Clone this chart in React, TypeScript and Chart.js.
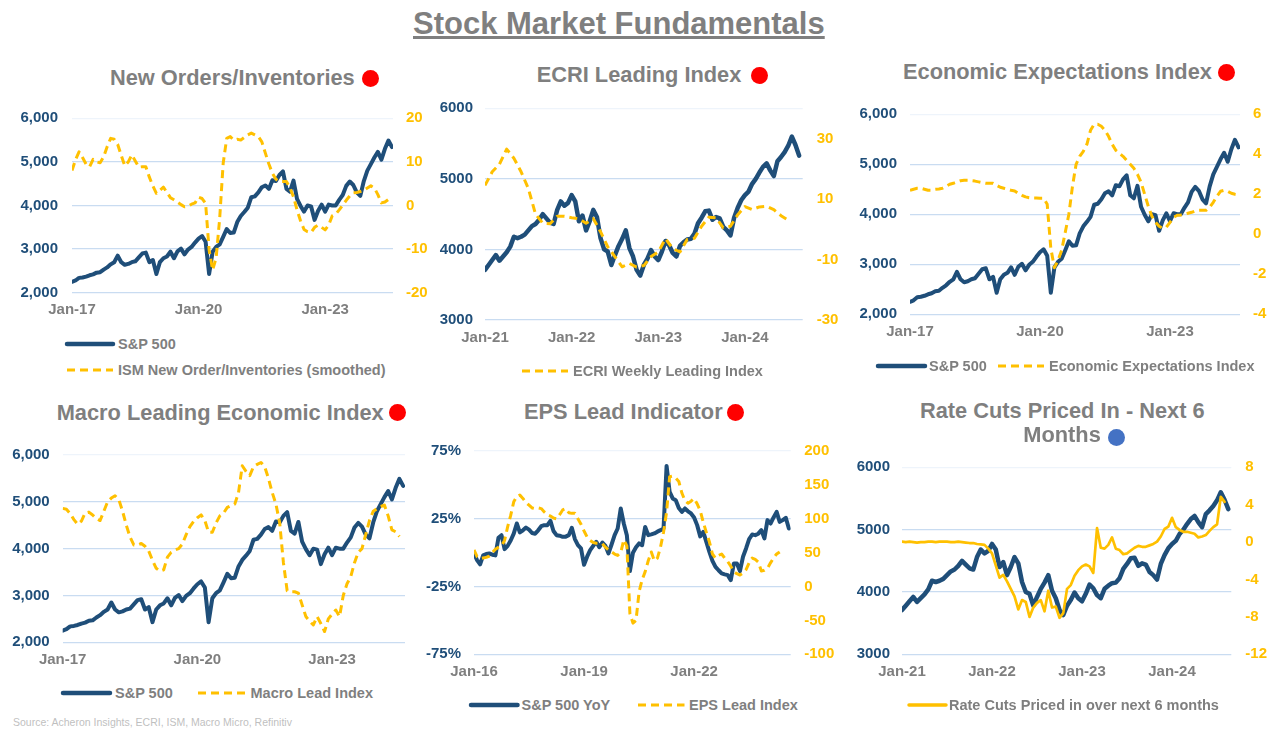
import React, { useEffect, useRef } from "react";
import { Chart, registerables } from "chart.js";

Chart.register(...registerables);

const FONT = "'Liberation Sans', Arial, Helvetica, sans-serif";
const NAVY = "#1F4E79";
const GOLD = "#FFC000";
const GRAY = "#7F7F7F";
const GRID = "#C9DCF1";
const GRID_TOP = "#EEF4FB";
const RED = "#FF0000";
const BLUE = "#4472C4";

// ---------- tick labels ----------
const X_TICKS_2017 = ["Jan-17", "Jan-20", "Jan-23"];
const X_TICKS_2021 = ["Jan-21", "Jan-22", "Jan-23", "Jan-24"];
const X_TICKS_2016 = ["Jan-16", "Jan-19", "Jan-22"];
const Y_SPX_WIDE = [2000, 3000, 4000, 5000, 6000];
const Y_SPX_NARROW = [3000, 4000, 5000, 6000];
const Y_ISM = [-20, -10, 0, 10, 20];
const Y_ECRI = [-30, -10, 10, 30];
const Y_EEI = [-4, -2, 0, 2, 4, 6];
const Y_YOY = [-75, -25, 25, 75];
const Y_EPS = [-100, -50, 0, 50, 100, 150, 200];
const Y_RATE = [-12, -8, -4, 0, 4, 8];

// ---------- series (monthly from Jan-17) ----------
const SP500_MONTHLY = [
  2250, 2280, 2340, 2350, 2370, 2400, 2420, 2460, 2470, 2530, 2580, 2650,
  2700, 2850, 2700, 2640, 2660, 2700, 2720, 2810, 2900, 2920, 2700, 2750,
  2430, 2700, 2790, 2830, 2940, 2790, 2950, 3010, 2880, 2990, 3050, 3150,
  3240, 3300, 3170, 2430, 2940, 3050, 3110, 3280, 3460, 3370, 3380, 3620,
  3760, 3850, 3950, 4190, 4210, 4300, 4420, 4460, 4380, 4580, 4560, 4700,
  4780, 4380, 4320, 4570, 4150, 3990, 3860, 4000, 3980, 3670, 3880, 4020,
  3860, 4020, 4000, 4000, 4130, 4240, 4450, 4550, 4470, 4300, 4220, 4560,
  4800, 4950, 5100, 5230, 5050, 5300, 5490, 5340,
];

const ISM_NO_INV = [
  8.0, 10.5, 12.3, 11.0, 9.5, 8.9, 10.6, 10.0, 9.8, 11.2, 13.5, 15.4,
  15.2, 14.0, 11.5, 9.1, 10.0, 11.6, 10.2, 8.8, 8.9, 8.9, 6.5, 4.5,
  2.8, 3.5, 4.2, 3.0, 1.8, 1.3, 0.8, 0.2, -0.3, -0.2, 0.3, 0.6,
  1.9, 1.6, 0.5, -10.2, -14.8, -12.0, -3.0, 9.7, 15.4, 15.8, 15.0, 15.2,
  15.0, 15.6, 16.2, 16.6, 16.2, 15.8, 14.6, 12.0, 9.5, 7.4, 6.0, 5.5,
  5.5, 5.5, 4.0, 2.0, -1.0, -3.5, -5.5, -6.0, -6.2, -5.0, -4.5, -5.0,
  -5.6, -4.5, -2.4, -2.0, -1.0, 0.1, 1.2, 2.2, 2.9, 3.0, 3.2, 3.5,
  4.0, 4.5, 4.0, 2.5, 0.6, 0.8, 1.4,
];

const ECON_EXPECT = [
  2.2, 2.25, 2.3, 2.3, 2.25, 2.2, 2.2, 2.25, 2.27, 2.3, 2.4, 2.5,
  2.55, 2.62, 2.68, 2.7, 2.7, 2.68, 2.66, 2.62, 2.58, 2.55, 2.55, 2.55,
  2.45, 2.35, 2.3, 2.25, 2.2, 2.17, 2.05, 1.95, 1.87, 1.83, 1.82, 1.82,
  1.8, 1.8, 1.5, -0.7, -1.67, -1.3, -0.8, 0.1, 1.0, 2.4, 3.5, 3.9,
  4.15, 4.5, 5.2, 5.5, 5.5, 5.4, 5.2, 4.9, 4.5, 4.2, 4.05, 3.9,
  3.7, 3.5, 3.3, 3.0, 2.6, 2.0, 1.4, 0.9, 0.6, 0.4, 0.3, 0.35,
  0.6, 0.85, 0.95, 0.97, 1.0, 1.05, 1.1, 1.17, 1.2, 1.2, 1.2, 1.35,
  1.6, 1.9, 2.15, 2.2, 2.15, 2.05, 2.0, 1.97,
];

const MACRO_LEAD = [
  0.86, 0.84, 0.75, 0.62, 0.52, 0.59, 0.76, 0.78, 0.72, 0.64, 0.6, 0.8,
  1.0, 1.08, 1.13, 1.05, 0.8, 0.5, 0.25, 0.08, 0.08, 0.11, 0.05, -0.05,
  -0.25, -0.42, -0.48, -0.45, -0.18, -0.08, -0.03, 0.0, 0.1, 0.3, 0.47, 0.58,
  0.66, 0.72, 0.6, 0.35, 0.35, 0.55, 0.7, 0.76, 0.88, 0.92, 0.95, 1.2,
  1.77, 1.65, 1.56, 1.75, 1.8, 1.84, 1.75, 1.5, 1.2, 0.95, 0.55, -0.3,
  -0.9, -0.92, -0.92, -0.95, -1.2, -1.45, -1.55, -1.63, -1.45, -1.6, -1.77, -1.5,
  -1.4, -1.31, -1.45, -1.0, -0.75, -0.6, -0.3, -0.08, 0.0, 0.3, 0.6, 0.8,
  0.85, 0.9, 0.93, 0.7, 0.4, 0.36, 0.26,
];

// ---------- series (half-monthly from Jan-21) ----------
const SP500_HALFMONTH = [
  3710, 3780, 3850, 3920, 3840, 3900, 3960, 4040, 4180, 4160, 4180, 4210,
  4270, 4330, 4360, 4420, 4500, 4440, 4380, 4360, 4560, 4680, 4620, 4660,
  4770, 4680, 4400, 4480, 4270, 4400, 4560, 4460, 4160, 4000, 3970, 3780,
  3920, 4050, 4150, 4270, 4020, 3900, 3710, 3630, 3780, 3870, 3990, 3900,
  3850, 3970, 4120, 4060, 3950, 3900, 4050, 4100, 4140, 4150, 4220, 4370,
  4450, 4540, 4550, 4420, 4460, 4440, 4320, 4270, 4200, 4450, 4590, 4700,
  4770, 4820, 4930, 5000, 5090, 5170, 5220, 5120, 5040, 5250, 5310, 5380,
  5470, 5600, 5480, 5330,
];

const RATE_CUTS = [
  0.05, 0.0, 0.05, 0.0, -0.05, 0.0, 0.0, 0.05, 0.05, 0.0, 0.05, 0.05, 0.05, 0.0, 0.0, 0.05, 0.0, -0.05, -0.1, -0.1,
  -0.2, -0.25, -0.3, -0.7, -1.2, -2.5, -3.8, -3.5, -4.2, -5.0, -5.8, -7.2, -6.2, -6.4, -8.0, -7.0, -6.5, -6.2, -7.4, -5.2,
  -7.0, -6.9, -8.1, -7.6, -5.0, -4.6, -3.6, -3.0, -2.6, -2.4, -2.6, -3.3, 1.5, -0.6, -0.7, -0.3, 0.5, -0.7, -0.85, -1.3,
  -1.2, -0.9, -0.6, -0.4, -0.5, -0.5, -0.35, -0.2, 0.05, 0.6, 1.4, 1.65, 2.6, 1.6, 1.3, 1.1, 1.1, 1.0, 0.9, 0.5,
  0.6, 0.75, 1.2, 1.6, 1.9, 4.85, 4.3,
];

// ---------- series (monthly from Jan-21) ----------
const ECRI_WLI = [
  14.5, 19.0, 21.5, 26.5, 23.5, 19.0, 13.5, 5.0, 2.0, 1.8,
  4.3, 4.3, 3.8, 3.5, 2.0, 3.5, -0.8, -5.8, -9.1, -12.4,
  -11.3, -12.5, -12.0, -9.0, -7.5, -3.1, -6.4, -7.5, -3.4, -3.0,
  1.0, 4.0, 3.8, 0.5, 1.0, 4.8, 7.5, 6.5, 7.4, 7.6,
  6.5, 4.5, 3.0,
];

// ---------- series (monthly from Jan-16) ----------
const SP500_YOY = [
  -0.6, -5.5, -8.7, -2.0, -1.0, -0.6, -1.5, -2.0, 11.0, 12.9, 2.6, 5.0,
  9.0, 14.0, 21.5, 14.9, 16.5, 18.5, 17.0, 14.5, 14.0, 16.5, 19.5, 20.3,
  20.3, 23.5, 16.0, 12.9, 12.5, 11.7, 11.8, 12.9, 18.3, 10.0, 5.5, 3.1,
  -9.0, -3.0, 1.8, 5.0, 8.0, 4.0, 7.5, 5.0, -0.6, 6.0, 12.9, 17.8,
  32.6, 21.5, 12.9, -13.6, 0.0, 4.0, 6.8, 5.5, 19.0, 12.9, 13.5, 14.2,
  15.5, 16.6, 17.8, 64.0, 44.8, 40.0, 38.7, 33.0, 30.1, 32.6, 30.5, 28.9,
  26.0, 20.3, 12.0, 15.3, 8.0, 0.6, -6.0, -10.5, -13.0, -15.3, -16.0, -16.6,
  -20.3, -8.0, -8.0, -13.6, -3.0, 3.1, 10.0, 13.4, 12.9, 14.0, 16.6, 10.5,
  24.0, 21.5, 26.0, 30.1, 22.7, 24.0, 25.7, 17.8,
];

const EPS_LEAD = [
  54, 44, 41, 42, 43, 45, 50, 55, 58, 60, 68, 88,
  105, 125, 133, 135, 130, 124, 120, 116, 115, 116, 115, 110,
  106, 104, 101, 100, 106, 113, 115, 109, 108, 108, 100, 92,
  82, 73, 68, 65, 64, 64, 63, 58, 54, 51, 48, 46,
  50, 69, 60, -40, -54, -50, -8, 10, 22, 38, 51, 38,
  42, 58, 80, 110, 162, 163, 160, 155, 138, 127, 123, 126,
  130, 122, 112, 95, 80, 66, 48, 42, 46, 48, 42, 37,
  30, 22, 19, 17, 20, 25, 35, 42, 40, 36, 23, 24,
  27, 35, 42, 48, 51,
];

// ---------- panel specs ----------
const comma = (v: number) => v.toLocaleString("en-US");
const plain = (v: number) => String(v);
const pct = (v: number) => v + "%";

type AxisSpec = {
  min: number;
  max: number;
  ticks: number[];
  fmt: (v: number) => string;
  width: number;
  pad: number;
  display: boolean;
};
type SeriesSpec = {
  values: number[];
  step: number;
  color: string;
  width: number;
  dash: number[];
  axis: "y" | "y1";
};
type PanelSpec = {
  box: { left: number; top: number; width: number; height: number };
  padTop: number;
  padRight: number;
  xHeight: number;
  xMax: number;
  xStep: number;
  xLabels: string[];
  y: AxisSpec;
  y1: AxisSpec;
  series: SeriesSpec[];
};

const DASH = [8, 5];

const PANELS: PanelSpec[] = [
  {
    box: { left: 0, top: 100, width: 440, height: 230 },
    padTop: 18.3, padRight: 0, xHeight: 37.3,
    xMax: 91.3, xStep: 36, xLabels: X_TICKS_2017,
    y: { min: 2000, max: 6000, ticks: Y_SPX_WIDE, fmt: comma, width: 72, pad: 14, display: true },
    y1: { min: -20, max: 20, ticks: Y_ISM, fmt: plain, width: 47, pad: 13, display: true },
    series: [
      { values: ISM_NO_INV, step: 1, color: GOLD, width: 3, dash: DASH, axis: "y1" },
      { values: SP500_MONTHLY, step: 1, color: NAVY, width: 4, dash: [], axis: "y" },
    ],
  },
  {
    box: { left: 420, top: 95, width: 430, height: 260 },
    padTop: 13.3, padRight: 0, xHeight: 35,
    xMax: 44, xStep: 12, xLabels: X_TICKS_2021,
    y: { min: 3000, max: 6000, ticks: Y_SPX_NARROW, fmt: plain, width: 65, pad: 12, display: true },
    y1: { min: -30, max: 40, ticks: Y_ECRI, fmt: plain, width: 47.3, pad: 14, display: true },
    series: [
      { values: ECRI_WLI, step: 1, color: GOLD, width: 3, dash: DASH, axis: "y1" },
      { values: SP500_HALFMONTH, step: 0.5, color: NAVY, width: 4.5, dash: [], axis: "y" },
    ],
  },
  {
    box: { left: 840, top: 95, width: 440, height: 255 },
    padTop: 19.3, padRight: 0, xHeight: 35.7,
    xMax: 91.4, xStep: 36, xLabels: X_TICKS_2017,
    y: { min: 2000, max: 6000, ticks: Y_SPX_WIDE, fmt: comma, width: 70, pad: 13, display: true },
    y1: { min: -4, max: 6, ticks: Y_EEI, fmt: plain, width: 40, pad: 13, display: true },
    series: [
      { values: ECON_EXPECT, step: 1, color: GOLD, width: 3, dash: DASH, axis: "y1" },
      { values: SP500_MONTHLY, step: 1, color: NAVY, width: 4, dash: [], axis: "y" },
    ],
  },
  {
    box: { left: 0, top: 435, width: 420, height: 240 },
    padTop: 20, padRight: 15, xHeight: 32.7,
    xMax: 91.5, xStep: 36, xLabels: X_TICKS_2017,
    y: { min: 2000, max: 6000, ticks: Y_SPX_WIDE, fmt: comma, width: 62.7, pad: 13, display: true },
    y1: { min: -2, max: 2, ticks: [], fmt: plain, width: 0, pad: 0, display: false },
    series: [
      { values: MACRO_LEAD, step: 1, color: GOLD, width: 3, dash: DASH, axis: "y1" },
      { values: SP500_MONTHLY, step: 1, color: NAVY, width: 4, dash: [], axis: "y" },
    ],
  },
  {
    box: { left: 420, top: 430, width: 430, height: 255 },
    padTop: 21, padRight: 0, xHeight: 30.7,
    xMax: 103.6, xStep: 36, xLabels: X_TICKS_2016,
    y: { min: -75, max: 75, ticks: Y_YOY, fmt: pct, width: 54, pad: 13, display: true },
    y1: { min: -100, max: 200, ticks: Y_EPS, fmt: plain, width: 59.3, pad: 13.5, display: true },
    series: [
      { values: EPS_LEAD, step: 1, color: GOLD, width: 3, dash: DASH, axis: "y1" },
      { values: SP500_YOY, step: 1, color: NAVY, width: 4, dash: [], axis: "y" },
    ],
  },
  {
    box: { left: 840, top: 445, width: 440, height: 240 },
    padTop: 22.3, padRight: 0, xHeight: 30.7,
    xMax: 43.9, xStep: 12, xLabels: X_TICKS_2021,
    y: { min: 3000, max: 6000, ticks: Y_SPX_NARROW, fmt: plain, width: 62, pad: 12, display: true },
    y1: { min: -12, max: 8, ticks: Y_RATE, fmt: plain, width: 48.7, pad: 14, display: true },
    series: [
      { values: RATE_CUTS, step: 0.5, color: GOLD, width: 2.7, dash: [], axis: "y1" },
      { values: SP500_HALFMONTH, step: 0.5, color: NAVY, width: 4.5, dash: [], axis: "y" },
    ],
  },
];

const TICK_FONT = { family: FONT, size: 15, weight: "bold" as const };

function buildConfig(spec: PanelSpec): any {
  const yAxis = (a: AxisSpec, side: "left" | "right", color: string, grid: boolean) => ({
    type: "linear",
    position: side,
    display: a.display,
    min: a.min,
    max: a.max,
    afterBuildTicks: (axis: any) => {
      axis.ticks = a.ticks.map((v) => ({ value: v }));
    },
    afterFit: (s: any) => {
      s.width = a.width;
      s.paddingTop = 0;
      s.paddingBottom = 0;
    },
    ticks: {
      color,
      font: TICK_FONT,
      padding: a.pad,
      callback: (v: any) => a.fmt(Number(v)),
    },
    grid: grid
      ? {
          display: true,
          drawTicks: false,
          lineWidth: 1.3,
          color: (ctx: any) => (ctx.tick && ctx.tick.value === a.max ? GRID_TOP : GRID),
        }
      : { display: false, drawTicks: false },
    border: { display: false },
  });

  return {
    type: "line",
    data: {
      datasets: spec.series.map((s) => ({
        data: s.values.map((v, i) => ({ x: i * s.step, y: v })),
        borderColor: s.color,
        backgroundColor: s.color,
        borderWidth: s.width,
        borderDash: s.dash,
        borderCapStyle: s.dash.length ? "butt" : "round",
        borderJoinStyle: "round",
        pointRadius: 0,
        tension: 0,
        fill: false,
        yAxisID: s.axis,
      })),
    },
    options: {
      animation: false,
      responsive: false,
      maintainAspectRatio: false,
      events: [],
      layout: { padding: { top: spec.padTop, right: spec.padRight, left: 0, bottom: 0 } },
      plugins: { legend: { display: false }, tooltip: { enabled: false }, title: { display: false } },
      scales: {
        x: {
          type: "linear",
          min: 0,
          max: spec.xMax,
          afterBuildTicks: (axis: any) => {
            axis.ticks = spec.xLabels.map((_, i) => ({ value: i * spec.xStep }));
          },
          afterFit: (s: any) => {
            s.height = spec.xHeight;
          },
          ticks: {
            color: GRAY,
            font: TICK_FONT,
            padding: 8.5,
            maxRotation: 0,
            autoSkip: false,
            callback: (_v: any, i: number) => spec.xLabels[i],
          },
          grid: { display: false, drawTicks: false },
          border: { display: false },
        },
        y: yAxis(spec.y, "left", NAVY, true),
        y1: yAxis(spec.y1, "right", GOLD, false),
      },
    },
  };
}

function ChartPanel({ spec }: { spec: PanelSpec }) {
  const ref = useRef<HTMLCanvasElement>(null);
  useEffect(() => {
    const chart = new Chart(ref.current as HTMLCanvasElement, buildConfig(spec));
    return () => chart.destroy();
  }, [spec]);
  const b = spec.box;
  return (
    <canvas
      ref={ref}
      width={b.width}
      height={b.height}
      style={{ position: "absolute", left: b.left, top: b.top, width: b.width, height: b.height }}
    />
  );
}

// ---------- titles & legends ----------
type TitleItem = { text: string; left: number; cy: number; dot: { gap: number; dy: number; c: string } | null };
const TITLES: TitleItem[] = [
  { text: "New Orders/Inventories", left: 110, cy: 78.3, dot: { gap: 7, dy: 0.7, c: RED } },
  { text: "ECRI Leading Index", left: 536.7, cy: 75, dot: { gap: 10, dy: 0.5, c: RED } },
  { text: "Economic Expectations Index", left: 903, cy: 72.3, dot: { gap: 6, dy: 0.7, c: RED } },
  { text: "Macro Leading Economic Index", left: 56.7, cy: 412.7, dot: { gap: 5, dy: 0, c: RED } },
  { text: "EPS Lead Indicator", left: 524, cy: 411.7, dot: { gap: 4, dy: 1.3, c: RED } },
  { text: "Rate Cuts Priced In - Next 6", left: 920, cy: 410.7, dot: null },
  { text: "Months", left: 1023.3, cy: 435, dot: { gap: 7, dy: 2.3, c: BLUE } },
];

type LegendItem = { line: "solid" | "dash" | "gold"; x1: number; x2: number; tx: number; cy: number; text: string };
const LEGENDS: LegendItem[] = [
  { line: "solid", x1: 67, x2: 113, tx: 118, cy: 343.5, text: "S&P 500" },
  { line: "dash", x1: 67, x2: 113, tx: 118, cy: 370, text: "ISM New Order/Inventories (smoothed)" },
  { line: "dash", x1: 522, x2: 568, tx: 573, cy: 371, text: "ECRI Weekly Leading Index" },
  { line: "solid", x1: 878, x2: 925, tx: 929, cy: 365.5, text: "S&P 500" },
  { line: "dash", x1: 998, x2: 1044, tx: 1049, cy: 365.5, text: "Economic Expectations Index" },
  { line: "solid", x1: 63, x2: 110, tx: 115, cy: 693, text: "S&P 500" },
  { line: "dash", x1: 198, x2: 245, tx: 250.5, cy: 693, text: "Macro Lead Index" },
  { line: "solid", x1: 471, x2: 517.5, tx: 521.5, cy: 705, text: "S&P 500 YoY" },
  { line: "dash", x1: 637.5, x2: 684, tx: 689, cy: 705, text: "EPS Lead Index" },
  { line: "gold", x1: 909, x2: 946, tx: 949, cy: 705, text: "Rate Cuts Priced in over next 6 months" },
];

function LegendEntry({ item }: { item: LegendItem }) {
  const w = item.x2 - item.x1;
  const stroke = item.line === "solid" ? NAVY : GOLD;
  const sw = item.line === "solid" ? 4.5 : item.line === "gold" ? 3.5 : 3;
  return (
    <>
      <svg
        width={w + 8}
        height={12}
        style={{ position: "absolute", left: item.x1 - 4, top: item.cy - 6, overflow: "visible" }}
      >
        <line
          x1={4}
          y1={6}
          x2={4 + w}
          y2={6}
          stroke={stroke}
          strokeWidth={sw}
          strokeDasharray={item.line === "dash" ? "8 5" : undefined}
          strokeLinecap={item.line === "dash" ? "butt" : "round"}
        />
      </svg>
      <div
        style={{
          position: "absolute",
          left: item.tx,
          top: item.cy - 9,
          lineHeight: "18px",
          fontSize: 14.5,
          fontWeight: "bold",
          color: GRAY,
          whiteSpace: "nowrap",
        }}
      >
        {item.text}
      </div>
    </>
  );
}

export default function App() {
  return (
    <div
      style={{
        position: "absolute",
        left: 0,
        top: 0,
        width: 1280,
        height: 732,
        background: "#ffffff",
        fontFamily: FONT,
        overflow: "hidden",
      }}
    >
      <div
        style={{
          position: "absolute",
          left: 413,
          top: 6,
          fontSize: 31,
          lineHeight: "36px",
          fontWeight: "bold",
          color: GRAY,
          textDecoration: "underline",
          whiteSpace: "nowrap",
        }}
      >
        Stock Market Fundamentals
      </div>
      {PANELS.map((p, i) => (
        <ChartPanel key={i} spec={p} />
      ))}
      {TITLES.map((t, i) => (
        <div
          key={"t" + i}
          style={{
            position: "absolute",
            left: t.left,
            top: t.cy - 13,
            height: 26,
            lineHeight: "26px",
            fontSize: 21.8,
            fontWeight: "bold",
            color: GRAY,
            whiteSpace: "nowrap",
          }}
        >
          {t.text}
          {t.dot && (
            <span
              style={{
                display: "inline-block",
                width: 17,
                height: 17,
                borderRadius: "50%",
                background: t.dot.c,
                marginLeft: t.dot.gap,
                verticalAlign: "baseline",
                position: "relative",
                top: 1.3 + t.dot.dy,
              }}
            />
          )}
        </div>
      ))}
      {LEGENDS.map((l, i) => (
        <LegendEntry key={"l" + i} item={l} />
      ))}
      <div
        style={{
          position: "absolute",
          left: 13,
          top: 715,
          lineHeight: "14px",
          fontSize: 10.5,
          color: "#BFBFBF",
          whiteSpace: "nowrap",
        }}
      >
        Source: Acheron Insights, ECRI, ISM, Macro Micro, Refinitiv
      </div>
    </div>
  );
}
